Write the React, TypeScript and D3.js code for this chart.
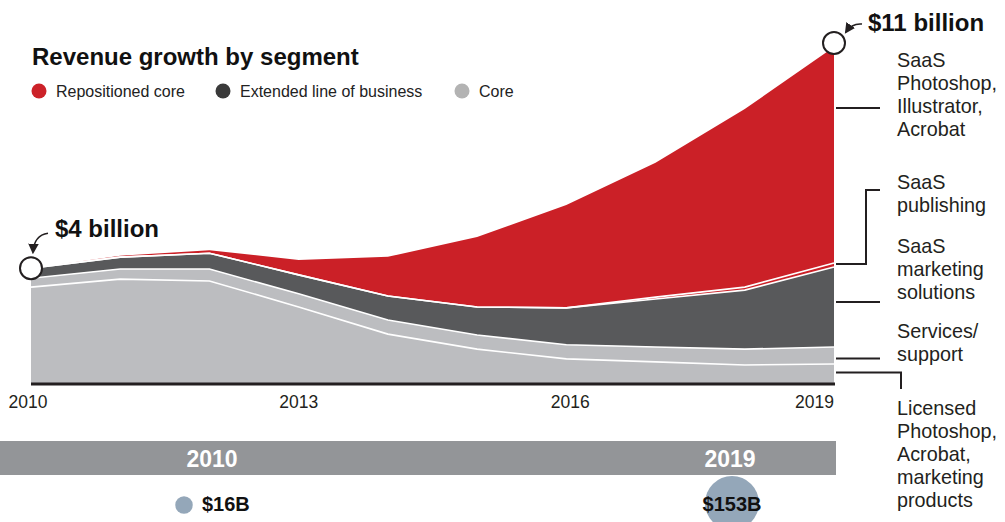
import React from "react";
import * as d3 from "d3";

const years = [2010, 2011, 2012, 2013, 2014, 2015, 2016, 2017, 2018, 2019];
const licensed = [3.14, 3.4, 3.34, 2.49, 1.6, 1.11, 0.79, 0.69, 0.59, 0.62];
const services = [0.29, 0.33, 0.39, 0.43, 0.46, 0.46, 0.46, 0.49, 0.52, 0.56];
const marketing = [0.33, 0.39, 0.52, 0.62, 0.79, 0.92, 1.21, 1.57, 1.93, 2.62];
const publishing = [0, 0, 0, 0, 0, 0, 0, 0.06, 0.1, 0.13];
const photoshop = [0, 0.05, 0.1, 0.49, 1.28, 2.29, 3.37, 4.4, 5.83, 7.07];

const tickYears = [2010, 2013, 2016, 2019];
const legendItems = ["Repositioned core", "Extended line of business", "Core"];
const bandYears = ["2010", "2019"];
const marketValues = [16, 153];
const marketLabels = ["$16B", "$153B"];

const keys = ["licensed", "services", "marketing", "publishing", "photoshop"];
const colors: Record<string, string> = {
  licensed: "#bcbdc0",
  services: "#bcbdc0",
  marketing: "#58595b",
  publishing: "#cb2027",
  photoshop: "#cb2027",
};
const legendColors = ["#cc2229", "#3a3a3a", "#b3b3b3"];
const INK = "#231f20";
const FONT = "'Liberation Sans', Arial, Helvetica, sans-serif";

export default function App() {
  const rows = years.map((yr, i) => ({
    year: yr,
    licensed: licensed[i],
    services: services[i],
    marketing: marketing[i],
    publishing: publishing[i],
    photoshop: photoshop[i],
  }));
  const series = d3.stack<any>().keys(keys)(rows);

  const x = d3.scaleLinear().domain([2010, 2019]).range([31, 834]);
  const y = d3.scaleLinear().domain([0, 11]).range([383, 47]);

  const area = d3
    .area<any>()
    .x((d) => x(d.data.year))
    .y0((d) => y(d[0]))
    .y1((d) => y(d[1]));
  const topLine = d3
    .line<any>()
    .x((d) => x(d.data.year))
    .y((d) => y(d[1]));

  const totals = rows.map(
    (r) => r.licensed + r.services + r.marketing + r.publishing + r.photoshop
  );
  const first = { x: x(years[0]), y: y(totals[0]) };
  const last = { x: x(years[years.length - 1]), y: y(totals[totals.length - 1]) };

  const last2019 = series.map((s) => s[s.length - 1]);
  const mid = (k: number) => y((last2019[k][0] + last2019[k][1]) / 2);
  const edgeX = x(2019) + 2;

  const r = d3.scaleSqrt().domain([0, 153]).range([0, 27]);

  const labelLines = (lines: string[], x0: number, y0: number) => (
    <text x={x0} y={y0} fontFamily={FONT} fontSize={19.8} fill={INK}>
      {lines.map((l, i) => (
        <tspan key={i} x={x0} dy={i === 0 ? 0 : 23}>
          {l}
        </tspan>
      ))}
    </text>
  );

  const tickShift = [-3, 0, 4, 0];

  return (
    <svg
      width={1005}
      height={522}
      style={{ position: "absolute", left: 0, top: 0, background: "#fff" }}
    >
      <defs>
        <marker
          id="ah"
          viewBox="0 0 10 10"
          refX="8"
          refY="5"
          markerWidth="7"
          markerHeight="7"
          orient="auto"
        >
          <path d="M0,0 L10,5 L0,10 z" fill={INK} />
        </marker>
      </defs>

      {/* title */}
      <text x={32} y={65} fontFamily={FONT} fontSize={24} fontWeight="bold" fill="#111">
        Revenue growth by segment
      </text>
      {/* legend */}
      {legendItems.map((t, i) => {
        const lx = [39, 223, 462][i];
        return (
          <g key={t}>
            <circle cx={lx} cy={91} r={7.5} fill={legendColors[i]} />
            <text x={lx + 17} y={97} fontFamily={FONT} fontSize={16} fill="#222">
              {t}
            </text>
          </g>
        );
      })}

      {/* areas */}
      {series.map((s) => (
        <path key={s.key} d={area(s) || ""} fill={colors[s.key]} />
      ))}
      {series.slice(0, 4).map((s) => (
        <path
          key={"l" + s.key}
          d={topLine(s) || ""}
          fill="none"
          stroke="#fff"
          strokeWidth={1.6}
        />
      ))}

      {/* baseline */}
      <line x1={x(2010)} x2={x(2019) + 1} y1={384} y2={384} stroke={INK} strokeWidth={3} />
      {tickYears.map((t, i) => (
        <text
          key={t}
          x={x(t) + tickShift[i]}
          y={408}
          textAnchor={i === tickYears.length - 1 ? "end" : "middle"}
          fontFamily={FONT}
          fontSize={17.5}
          fill={INK}
        >
          {t}
        </text>
      ))}

      {/* start/end markers */}
      <circle cx={first.x} cy={first.y} r={11} fill="#fff" stroke={INK} strokeWidth={2} />
      <circle cx={last.x} cy={last.y - 4} r={11} fill="#fff" stroke={INK} strokeWidth={2} />
      <path
        d={`M${first.x + 17},${first.y - 35} Q${first.x + 3},${first.y - 33} ${first.x + 2},${first.y - 16}`}
        fill="none"
        stroke={INK}
        strokeWidth={1.5}
        markerEnd="url(#ah)"
      />
      <text x={55} y={237} fontFamily={FONT} fontSize={24} fontWeight="bold" fill="#111">
        $4 billion
      </text>
      <path
        d={`M${last.x + 28},${last.y - 23} Q${last.x + 18},${last.y - 24} ${last.x + 12},${last.y - 15}`}
        fill="none"
        stroke={INK}
        strokeWidth={1.5}
        markerEnd="url(#ah)"
      />
      <text x={868} y={31} fontFamily={FONT} fontSize={24} fontWeight="bold" fill="#111">
        $11 billion
      </text>

      {/* right-side leaders */}
      <g stroke={INK} strokeWidth={2} fill="none">
        <line x1={edgeX} x2={880} y1={108} y2={108} />
        <polyline points={`${edgeX},${y(last2019[3][1]) + 1} 866,${y(last2019[3][1]) + 1} 866,190 880,190`} />
        <line x1={edgeX} x2={880} y1={mid(2) - 5} y2={mid(2) - 5} />
        <line x1={edgeX} x2={880} y1={mid(1) + 3} y2={mid(1) + 3} />
        <polyline points={`${edgeX},${mid(0) - 1} 901,${mid(0) - 1} 901,389`} />
      </g>
      {labelLines(["SaaS", "Photoshop,", "Illustrator,", "Acrobat"], 897, 67)}
      {labelLines(["SaaS", "publishing"], 897, 189)}
      {labelLines(["SaaS", "marketing", "solutions"], 897, 253)}
      {labelLines(["Services/", "support"], 897, 338)}
      {labelLines(["Licensed", "Photoshop,", "Acrobat,", "marketing", "products"], 897, 415)}

      {/* bottom market size band */}
      <circle cx={732} cy={503} r={r(marketValues[1])} fill="#94a7b9" />
      <rect x={0} y={441} width={836} height={34} fill="#939598" />
      {bandYears.map((t, i) => (
        <text
          key={t}
          x={[212, 730][i]}
          y={467}
          textAnchor="middle"
          fontFamily={FONT}
          fontSize={23}
          fontWeight="bold"
          fill="#fff"
        >
          {t}
        </text>
      ))}
      <circle cx={184} cy={505} r={r(marketValues[0])} fill="#94a7b9" />
      <text x={202} y={511} fontFamily={FONT} fontSize={20} fontWeight="bold" fill="#111">
        {marketLabels[0]}
      </text>
      <text x={732} y={511} textAnchor="middle" fontFamily={FONT} fontSize={20} fontWeight="bold" fill="#111">
        {marketLabels[1]}
      </text>
    </svg>
  );
}
